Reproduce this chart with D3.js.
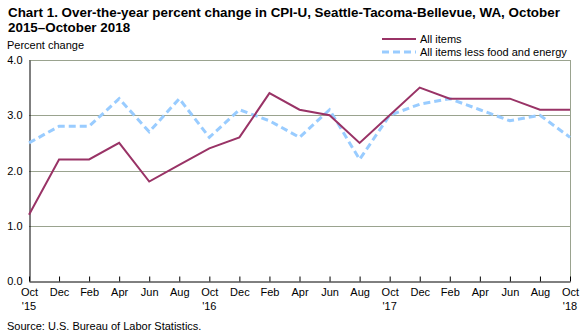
<!DOCTYPE html>
<html>
<head>
<meta charset="utf-8">
<script src="https://cdn.jsdelivr.net/npm/d3@7"></script>
<style>
  body { margin: 0; background: #fff; }
  text { font-family: "Liberation Sans", Arial, sans-serif; }
</style>
</head>
<body>
<div id="chart"></div>
<script>
// months shown on the x axis, one point every two months
const months = ["Oct","Dec","Feb","Apr","Jun","Aug","Oct","Dec","Feb","Apr","Jun","Aug","Oct","Dec","Feb","Apr","Jun","Aug","Oct"];
const yearLabels = ["'15","","","","","","'16","","","","","","'17","","","","","","'18"];
const allItems = [1.2, 2.2, 2.2, 2.5, 1.8, 2.1, 2.4, 2.6, 3.4, 3.1, 3.0, 2.5, 3.0, 3.5, 3.3, 3.3, 3.3, 3.1, 3.1];
const coreItems = [2.5, 2.8, 2.8, 3.3, 2.7, 3.3, 2.6, 3.1, 2.9, 2.6, 3.1, 2.2, 3.0, 3.2, 3.3, 3.1, 2.9, 3.0, 2.6];
const yTicks = [0, 1, 2, 3, 4];

function init() {
    let w = 587;
    let h = 336;
    let left = 29, right = 570, top = 60, bottom = 281;

    let svg = d3.select("#chart")
        .append("svg")
        .attr("width", w)
        .attr("height", h);

    let x = d3.scaleLinear().domain([0, months.length - 1]).range([left, right]);
    let y = d3.scaleLinear().domain([0, 4]).range([bottom, top]);

    // title
    let title = svg.append("text")
        .attr("x", 8)
        .attr("y", 17)
        .style("font-size", "13.4px")
        .style("font-weight", "bold");
    title.append("tspan").attr("x", 8).attr("dy", 0)
        .text("Chart 1. Over-the-year percent change in CPI-U, Seattle-Tacoma-Bellevue, WA, October");
    title.append("tspan").attr("x", 8).attr("dy", 15)
        .text("2015\u2013October  2018");

    svg.append("text")
        .attr("x", 7)
        .attr("y", 49)
        .style("font-size", "11px")
        .text("Percent change");

    // gridlines
    svg.selectAll(".grid")
        .data(yTicks.filter(d => d > 0))
        .enter()
        .append("line")
        .attr("x1", left)
        .attr("x2", right)
        .attr("y1", d => Math.round(y(d)) + 0.5)
        .attr("y2", d => Math.round(y(d)) + 0.5)
        .attr("stroke", "#9aa38f")
        .attr("stroke-width", 1);

    // right border
    svg.append("line")
        .attr("x1", right + 0.5).attr("x2", right + 0.5)
        .attr("y1", top).attr("y2", bottom)
        .attr("stroke", "#9aa38f");

    // y axis
    let yAxis = d3.axisLeft(y)
        .tickValues(yTicks)
        .tickFormat(d3.format(".1f"))
        .tickSize(0)
        .tickPadding(7);
    let gy = svg.append("g")
        .attr("transform", "translate(" + (left + 0.5) + ",0)")
        .call(yAxis);
    gy.select(".domain").attr("stroke", "#000");
    gy.selectAll("text")
        .style("font-family", "Liberation Sans, Arial, sans-serif")
        .style("font-size", "11px")
        .attr("fill", "#000");

    // x axis
    let xAxis = d3.axisBottom(x)
        .tickValues(d3.range(months.length))
        .tickFormat(i => months[i])
        .tickSizeInner(5)
        .tickSizeOuter(0)
        .tickPadding(2);
    let gx = svg.append("g")
        .attr("transform", "translate(0," + (bottom + 0.5) + ")")
        .call(xAxis);
    gx.selectAll(".tick line").attr("y1", -5).attr("y2", 0).attr("stroke", "#000");
    gx.select(".domain").attr("stroke", "#000");
    gx.selectAll("text")
        .style("font-family", "Liberation Sans, Arial, sans-serif")
        .style("font-size", "11px")
        .attr("fill", "#000");

    svg.selectAll(".year")
        .data(yearLabels)
        .enter()
        .append("text")
        .attr("x", (d, i) => x(i))
        .attr("y", 310)
        .attr("text-anchor", "middle")
        .style("font-size", "11px")
        .text(d => d);

    // lines
    let line = d3.line()
        .x((d, i) => x(i))
        .y(d => y(d));

    svg.append("path")
        .datum(coreItems)
        .attr("d", line)
        .attr("fill", "none")
        .attr("stroke", "#99ccff")
        .attr("stroke-width", 3)
        .attr("stroke-dasharray", "7,4");

    svg.append("path")
        .datum(allItems)
        .attr("d", line)
        .attr("fill", "none")
        .attr("stroke", "#993366")
        .attr("stroke-width", 2);

    // legend
    let legend = [
        { name: "All items", color: "#993366", width: 2, dash: null },
        { name: "All items less food and energy", color: "#99ccff", width: 3, dash: "7,4" }
    ];
    let lg = svg.selectAll(".legend")
        .data(legend)
        .enter()
        .append("g")
        .attr("transform", (d, i) => "translate(382," + (39 + i * 13) + ")");
    lg.append("line")
        .attr("x1", 0).attr("x2", 34)
        .attr("stroke", d => d.color)
        .attr("stroke-width", d => d.width)
        .attr("stroke-dasharray", d => d.dash);
    lg.append("text")
        .attr("x", 38)
        .attr("y", 4)
        .style("font-size", "11px")
        .text(d => d.name);

    svg.append("text")
        .attr("x", 7)
        .attr("y", 330)
        .style("font-size", "11px")
        .text("Source: U.S. Bureau of Labor Statistics.");
}

window.onload = init;
</script>
</body>
</html>
